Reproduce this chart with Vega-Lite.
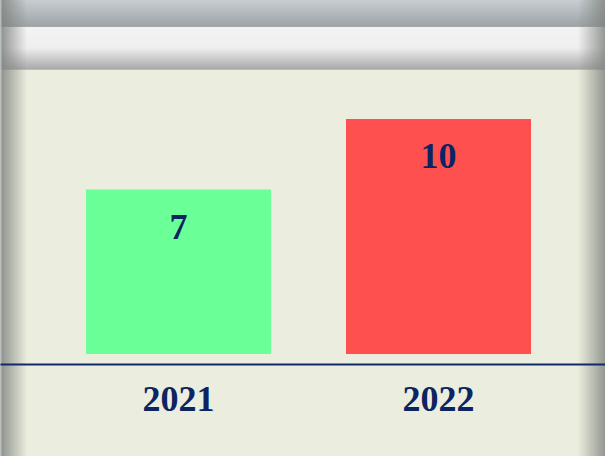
{
  "$schema": "https://vega.github.io/schema/vega-lite/v6.json",
  "width": 605,
  "height": 456,
  "autosize": "none",
  "padding": 0,
  "background": "#EBEEDE",
  "config": {"view": {"stroke": null}},
  "data": {"values": [
    {"year": "2021", "value": 7},
    {"year": "2022", "value": 10}
  ]},
  "layer": [
    {
      "data": {"values": [{"k": 1}]},
      "mark": {"type": "rect", "fill": {"gradient": "linear", "x1": 0, "y1": 0, "x2": 0, "y2": 1, "stops": [
        {"offset": 0, "color": "#C7CED1"},
        {"offset": 0.058, "color": "#9DA2A5"},
        {"offset": 0.0595, "color": "#F3F3F3"},
        {"offset": 0.105, "color": "#EFEFEF"},
        {"offset": 0.152, "color": "#A8A8A8"},
        {"offset": 0.1545, "color": "rgba(235,238,222,0)"},
        {"offset": 1, "color": "rgba(235,238,222,0)"}
      ]}},
      "encoding": {
        "x": {"value": 0}, "x2": {"value": "width"},
        "y": {"value": 0}, "y2": {"value": "height"}
      }
    },
    {
      "data": {"values": [{"k": 1}]},
      "mark": {"type": "rect", "fill": {"gradient": "linear", "x1": 0, "y1": 0, "x2": 1, "y2": 0, "stops": [
        {"offset": 0, "color": "rgba(200,206,208,1)"},
        {"offset": 0.004, "color": "rgba(125,130,126,0.8)"},
        {"offset": 0.045, "color": "rgba(125,130,126,0)"},
        {"offset": 0.955, "color": "rgba(125,130,126,0)"},
        {"offset": 1, "color": "rgba(125,130,126,0.8)"}
      ]}},
      "encoding": {
        "x": {"value": 0}, "x2": {"value": "width"},
        "y": {"value": 0}, "y2": {"value": "height"}
      }
    },
    {
      "mark": {"type": "bar"},
      "encoding": {
        "x": {
          "field": "year", "type": "nominal",
          "scale": {"paddingInner": 0.2885, "paddingOuter": 0.3077, "align": 0.5375},
          "axis": {
            "title": null, "orient": "bottom", "offset": -92, "zindex": 2,
            "domainColor": "#0F2A6B", "domainWidth": 2, "ticks": false,
            "labelAngle": 0, "labelFont": "Liberation Serif", "labelFontSize": 36,
            "labelFontWeight": "bold", "labelColor": "#0D2462",
            "labelBaseline": "alphabetic", "labelPadding": 46
          }
        },
        "y": {"field": "value", "type": "quantitative", "scale": {"domain": [-4.34, 15.064], "nice": false, "zero": false}, "axis": null},
        "color": {"field": "year", "type": "nominal", "scale": {"domain": ["2021", "2022"], "range": ["#6BFF98", "#FF5050"]}, "legend": null}
      }
    },
    {
      "mark": {"type": "text", "font": "Liberation Serif", "fontSize": 36, "fontWeight": "bold", "color": "#0D2462", "baseline": "alphabetic", "dy": 49},
      "encoding": {
        "x": {"field": "year", "type": "nominal"},
        "y": {"field": "value", "type": "quantitative"},
        "text": {"field": "value", "type": "quantitative"}
      }
    }
  ]
}
